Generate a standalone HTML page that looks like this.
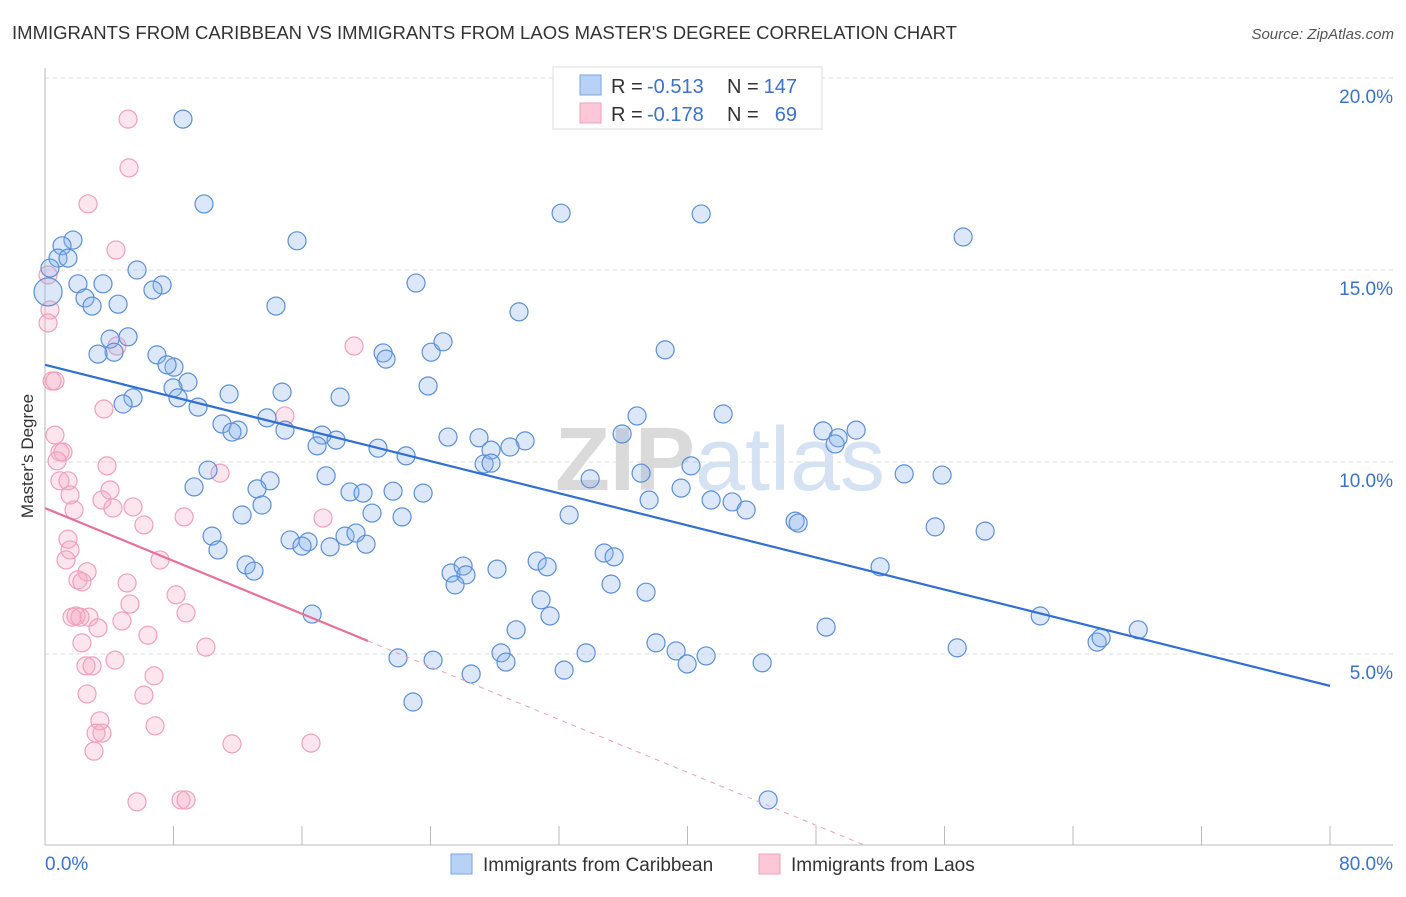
<!DOCTYPE html>
<html><head><meta charset="utf-8"><style>
body{margin:0;background:#fff;font-family:"Liberation Sans",sans-serif}
svg text{font-family:"Liberation Sans",sans-serif}
</style></head><body>
<svg id="chart" width="1406" height="892" viewBox="0 0 1406 892" xmlns="http://www.w3.org/2000/svg">
<text x="12" y="39" font-size="18" fill="#333" textLength="945" lengthAdjust="spacingAndGlyphs">IMMIGRANTS FROM CARIBBEAN VS IMMIGRANTS FROM LAOS MASTER'S DEGREE CORRELATION CHART</text>
<text x="1394" y="39" font-size="15" fill="#555" text-anchor="end" font-style="italic">Source: ZipAtlas.com</text>
<text x="720" y="490" font-size="90" fill="#e6e6e6" text-anchor="middle" font-family="Liberation Serif"><tspan fill="#dadada" font-weight="bold">ZIP</tspan><tspan fill="#d4e2f3">atlas</tspan></text>
<g id="grid"></g><g id="axes"></g><g id="pink"></g><g id="blue"></g><g id="trend"></g>
<text transform="translate(33,456) rotate(-90)" font-size="17" fill="#333" text-anchor="middle">Master's Degree</text>
<g>
<rect x="553" y="67" width="269" height="62" fill="#fff" stroke="#ddd"/>
<rect x="580" y="75" width="21" height="20" fill="#b8d2f5" stroke="#7aa6e6"/>
<rect x="580" y="103" width="21" height="20" fill="#fcc8d8" stroke="#f0a0bb"/>
<text x="611" y="93" font-size="20" fill="#333">R =</text>
<text x="647" y="93" font-size="20" fill="#3a72cc">-0.513</text>
<text x="727" y="93" font-size="20" fill="#333">N =</text>
<text x="797" y="93" font-size="20" fill="#3a72cc" text-anchor="end">147</text>
<text x="611" y="121" font-size="20" fill="#333">R =</text>
<text x="647" y="121" font-size="20" fill="#3a72cc">-0.178</text>
<text x="727" y="121" font-size="20" fill="#333">N =</text>
<text x="797" y="121" font-size="20" fill="#3a72cc" text-anchor="end">69</text>
</g>
<g>
<rect x="451" y="854" width="21" height="20" fill="#b8d2f5" stroke="#7aa6e6"/>
<text x="483" y="871" font-size="19" fill="#333">Immigrants from Caribbean</text>
<rect x="759" y="854" width="21" height="20" fill="#fcc8d8" stroke="#f0a0bb"/>
<text x="791" y="871" font-size="19" fill="#333">Immigrants from Laos</text>
</g>
</svg>
<script>
const yTicks=[5,10,15,20];
const yTickLabels=["5.0%","10.0%","15.0%","20.0%"];
const xTicks=[0,8,16,24,32,40,48,56,64,72,80];
const blueX=[8.59,9.90,32.13,40.85,57.16,15.69,1.74,1.06,0.81,1.43,5.73,0.31,0.19,2.05,3.61,7.29,6.72,2.49,2.93,4.55,14.38,23.10,29.51,5.17,4.05,4.30,3.30,6.97,8.03,7.60,21.05,21.23,24.04,24.78,38.61,8.90,7.97,8.28,5.48,4.86,11.46,14.76,18.37,23.85,9.53,11.02,12.02,11.64,13.82,14.94,17.25,16.94,18.12,20.73,22.48,25.09,27.02,27.77,27.34,27.77,29.89,28.95,36.86,42.22,35.93,48.44,49.38,50.50,49.19,10.15,9.28,14.01,13.20,13.51,12.27,17.50,18.99,19.80,21.67,23.54,20.36,22.23,33.94,37.11,40.22,39.60,37.61,41.47,42.78,43.65,32.63,46.70,46.89,53.49,55.85,55.42,58.53,10.40,10.77,15.26,16.38,16.00,17.75,18.68,19.36,19.99,12.52,13.01,25.28,26.03,26.21,25.53,28.14,30.64,31.26,34.81,35.43,35.24,37.42,30.88,31.44,16.63,29.33,51.99,61.96,48.63,65.50,65.75,68.06,56.79,38.04,39.29,39.98,41.16,44.65,33.69,32.32,28.39,28.70,26.53,24.16,21.98,22.91,45.02];
const blueY=[18.93,16.72,16.48,16.46,15.86,15.76,15.78,15.63,15.31,15.31,15.0,15.05,14.43,14.64,14.64,14.61,14.48,14.27,14.06,14.11,14.06,14.66,13.91,13.26,13.20,12.86,12.81,12.79,12.47,12.53,12.84,12.68,12.86,13.13,12.92,12.08,11.93,11.67,11.67,11.51,11.77,11.82,11.69,11.98,11.43,10.99,10.83,10.78,11.15,10.83,10.70,10.42,10.57,10.36,10.16,10.65,10.63,10.31,9.95,9.97,10.55,10.39,11.20,11.25,10.73,10.81,10.63,10.83,10.47,9.79,9.35,9.51,9.30,8.88,8.62,9.64,9.22,9.19,9.24,9.19,8.67,8.57,9.56,9.71,9.90,9.32,9.01,9.01,8.96,8.75,8.62,8.46,8.41,9.69,9.66,8.31,8.20,8.07,7.71,7.97,7.92,7.81,7.79,8.07,8.15,7.86,7.32,7.16,7.11,7.29,7.06,6.80,7.21,7.42,7.27,7.63,7.53,6.82,6.61,6.41,5.99,6.04,5.63,7.27,5.99,5.70,5.31,5.42,5.63,5.16,5.29,5.08,4.74,4.95,4.77,5.03,4.58,5.03,4.79,4.48,4.84,4.90,3.75,1.20];
const blueR=blueX.map((v,i)=>i===12?14:9);
const pinkX=[5.17,5.23,2.68,4.42,0.19,0.31,0.19,19.24,4.48,0.44,0.62,3.67,14.94,0.62,0.93,1.12,0.75,3.86,10.90,0.93,1.43,4.05,1.56,3.55,4.23,5.48,1.81,8.66,17.31,6.16,1.43,1.56,7.16,1.31,2.62,2.05,2.30,5.11,8.16,5.29,8.78,1.68,1.93,2.18,2.74,4.79,3.30,2.30,6.41,10.02,2.55,2.93,4.36,6.79,6.16,2.62,3.42,3.18,3.55,3.05,6.85,11.64,16.56,5.73,8.47,8.78];
const pinkY=[18.93,17.66,16.72,15.52,14.87,13.96,13.62,13.02,13.02,12.11,12.11,11.38,11.20,10.70,10.26,10.26,10.03,9.90,9.71,9.51,9.51,9.27,9.14,9.01,8.80,8.83,8.75,8.57,8.54,8.36,7.99,7.71,7.45,7.45,7.14,6.93,6.88,6.85,6.54,6.30,6.07,5.96,5.99,5.96,5.96,5.86,5.68,5.29,5.49,5.18,4.69,4.69,4.84,4.43,3.93,3.96,3.26,2.94,2.94,2.47,3.13,2.66,2.68,1.15,1.20,1.20];
const blueTrend=[12.53,4.17];
const pinkTrend=[8.80,5.34,20.11];
const NS="http://www.w3.org/2000/svg";
const X=v=>45+v*(1330-45)/80;
const Y=v=>846-v*38.4;
function mk(t,a,p){const e=document.createElementNS(NS,t);for(const k in a)e.setAttribute(k,a[k]);p.appendChild(e);return e;}
const grid=document.getElementById('grid'),axes=document.getElementById('axes');
yTicks.forEach((t,i)=>{
 const l=mk('line',{x1:45,x2:1393,y1:Y(t),y2:Y(t),stroke:'#ddd','stroke-dasharray':'4,4'},grid);
 
 
 const tx=mk('text',{x:1393,y:Y(t)+25,'font-size':19,fill:'#3a72cc','text-anchor':'end'},axes);
 tx.textContent=yTickLabels[i];
 
 
});
const ya=mk('line',{x1:45,x2:45,y1:68,y2:845,stroke:'#bbb'},axes);


const xa=mk('line',{x1:45,x2:1393,y1:845,y2:845,stroke:'#bbb'},axes);


xTicks.forEach(t=>{const l=mk('line',{x1:X(t),x2:X(t),y1:826,y2:845,stroke:'#bbb'},axes);
 
 });
const x0=mk('text',{x:45,y:870,'font-size':19,fill:'#3a72cc'},axes);x0.textContent='0.0%';


const x1=mk('text',{x:1393,y:870,'font-size':19,fill:'#3a72cc','text-anchor':'end'},axes);x1.textContent='80.0%';


const pg=document.getElementById('pink'),bg=document.getElementById('blue');
pinkX.forEach((v,i)=>{const c=mk('circle',{cx:X(v),cy:Y(pinkY[i]),r:9,fill:'rgba(246,170,196,0.3)',stroke:'#f0a0bb','stroke-width':1.2},pg);
 
 });
blueX.forEach((v,i)=>{const c=mk('circle',{cx:X(v),cy:Y(blueY[i]),r:blueR[i],fill:'rgba(140,178,235,0.3)',stroke:'#5b8fd9','stroke-width':1.2},bg);
 
 });
const tg=document.getElementById('trend');
const bt=mk('line',{x1:X(0),y1:Y(blueTrend[0]),x2:X(80),y2:Y(blueTrend[1]),stroke:'#2f6fd6','stroke-width':2.2},tg);


const slope=(pinkTrend[1]-pinkTrend[0])/pinkTrend[2];
const xz=-pinkTrend[0]/slope;
const pt=mk('line',{x1:X(0),y1:Y(pinkTrend[0]),x2:X(pinkTrend[2]),y2:Y(pinkTrend[1]),stroke:'#e8709a','stroke-width':2.2},tg);


const pd=mk('line',{x1:X(pinkTrend[2]),y1:Y(pinkTrend[1]),x2:X(xz),y2:Y(0),stroke:'#f0a0bb','stroke-width':1,'stroke-dasharray':'5,5'},tg);


</script>
</body></html>
